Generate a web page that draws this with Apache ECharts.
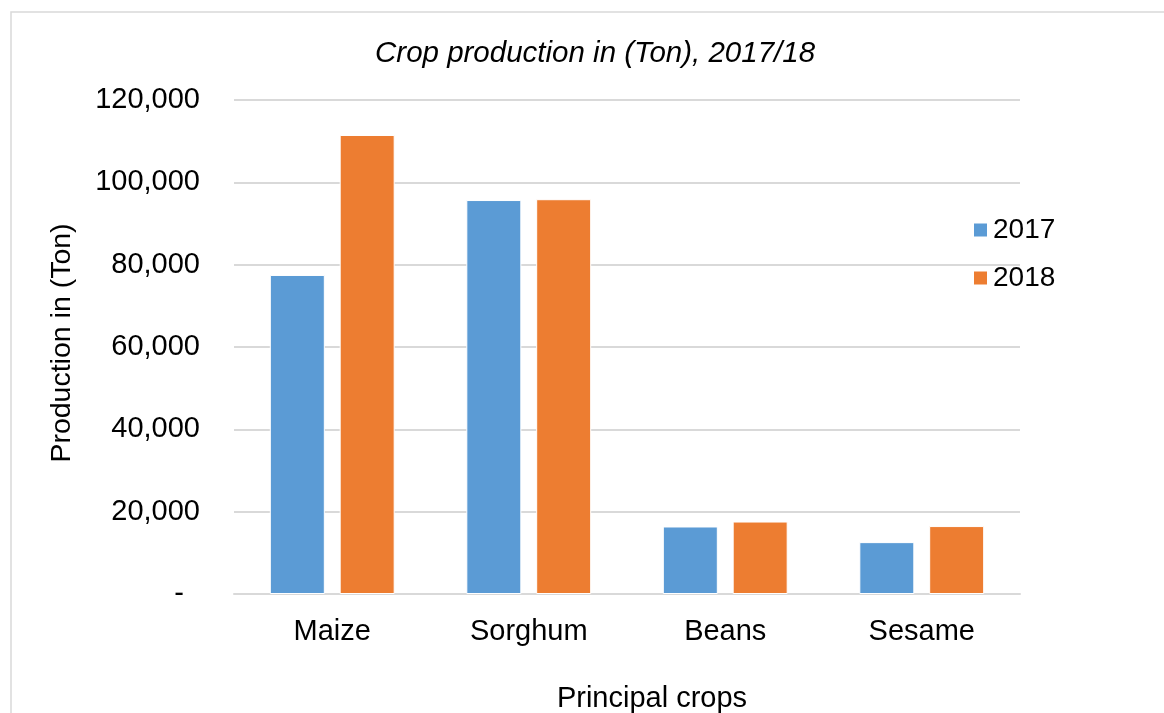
<!DOCTYPE html>
<html>
<head>
<meta charset="utf-8">
<script src="https://cdn.jsdelivr.net/npm/echarts@6/dist/echarts.min.js"></script>
<style>html,body{margin:0;padding:0;background:#fff}#c{width:1164px;height:713px}</style>
</head>
<body>
<div id="c"></div>
<script>
const categories = ['Maize', 'Sorghum', 'Beans', 'Sesame'];
const seriesNames = ['2017', '2018'];
const values2017 = [77500, 95700, 16400, 12600];
const values2018 = [111500, 95900, 17600, 16500];
const yTicks = [0, 20000, 40000, 60000, 80000, 100000, 120000];

const FONT = 'Liberation Sans, Arial, sans-serif';
const chart = echarts.init(document.getElementById('c'));
chart.setOption({
  animation: false,
  backgroundColor: '#fff',
  title: {
    text: 'Crop production in (Ton), 2017/18',
    left: 375,
    top: 39,
    padding: 0,
    textStyle: { fontFamily: FONT, fontSize: 29.5, fontStyle: 'italic', fontWeight: 'normal', color: '#000' }
  },
  graphic: [{
    type: 'rect', silent: true,
    shape: { x: 11, y: 12, width: 1300, height: 900 },
    style: { fill: 'none', stroke: '#d9d9d9', lineWidth: 1.5 }
  }],
  legend: {
    orient: 'vertical',
    left: 967,
    top: 211,
    itemWidth: 15,
    itemHeight: 15,
    itemGap: 20,
    icon: 'rect',
    textStyle: { fontFamily: FONT, fontSize: 28, color: '#000' },
    data: seriesNames
  },
  grid: { left: 234, right: 144, top: 100, bottom: 119, containLabel: false, outerBoundsMode: 'none' },
  xAxis: {
    type: 'category',
    data: categories,
    name: 'Principal crops',
    nameLocation: 'middle',
    nameGap: 90,
    nameTextStyle: { fontFamily: FONT, fontSize: 29, color: '#000', padding: [0, 0, 0, 50] },
    axisLine: { lineStyle: { color: '#d9d9d9', width: 2 } },
    axisTick: { show: false },
    axisLabel: { fontFamily: FONT, fontSize: 29, color: '#000', margin: 23 }
  },
  yAxis: {
    type: 'value',
    min: yTicks[0],
    max: yTicks[yTicks.length - 1],
    interval: yTicks[1] - yTicks[0],
    name: 'Production in (Ton)',
    nameLocation: 'middle',
    nameRotate: 90,
    nameGap: 157,
    nameTextStyle: { fontFamily: FONT, fontSize: 28.5, color: '#000', padding: [0, 0, 0, 8] },
    axisLine: { show: false },
    axisTick: { show: false },
    splitLine: { lineStyle: { color: '#d9d9d9', width: 2 } },
    axisLabel: {
      fontFamily: FONT, fontSize: 29, color: '#000', margin: 34,
      formatter: v => v === 0 ? '-  ' : v.toLocaleString('en-US')
    }
  },
  series: [
    { name: seriesNames[0], type: 'bar', data: values2017, barWidth: 55, barGap: '27%',
      itemStyle: { color: '#5B9BD5', borderColor: '#fff', borderWidth: 1 } },
    { name: seriesNames[1], type: 'bar', data: values2018, barWidth: 55, barGap: '27%',
      itemStyle: { color: '#ED7D31', borderColor: '#fff', borderWidth: 1 } }
  ]
});
</script>
</body>
</html>
